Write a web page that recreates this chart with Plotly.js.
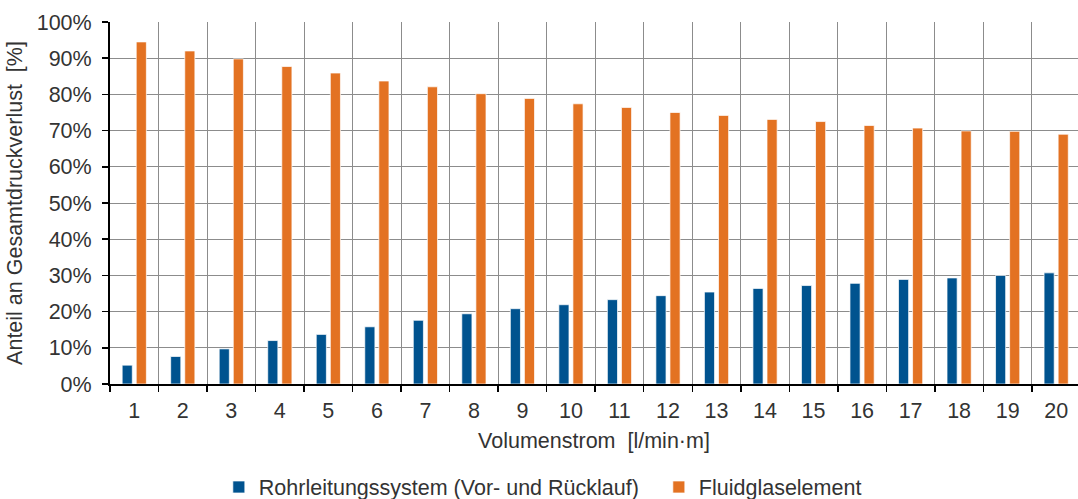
<!DOCTYPE html>
<html>
<head>
<meta charset="utf-8">
<script src="https://cdn.plot.ly/plotly-3.0.1.min.js"></script>
<style>
html,body{margin:0;padding:0;background:#fff;}
#chart{width:1078px;height:499px;}
</style>
</head>
<body>
<div id="chart"></div>
<script>
const categories = ["1","2","3","4","5","6","7","8","9","10","11","12","13","14","15","16","17","18","19","20"];
const rohrleitung = [0.052,0.076,0.097,0.120,0.137,0.158,0.176,0.194,0.208,0.219,0.233,0.244,0.254,0.264,0.272,0.278,0.289,0.293,0.300,0.307];
const fluidglas   = [0.945,0.920,0.898,0.877,0.859,0.837,0.821,0.802,0.789,0.774,0.764,0.750,0.742,0.731,0.725,0.714,0.707,0.699,0.698,0.690];
const seriesNames = ["Rohrleitungssystem (Vor- und Rücklauf)", "Fluidglaselement"];

const font = {family: "Liberation Sans, Arial, sans-serif", size: 21.5, color: "#333333"};

const traces = [
  {type: "bar", name: seriesNames[0], x: categories, y: rohrleitung,
   marker: {color: "#00538F", line: {color: "rgba(255,255,255,0.7)", width: 1}}},
  {type: "bar", name: seriesNames[1], x: categories, y: fluidglas,
   marker: {color: "#E37222", line: {color: "rgba(255,255,255,0.7)", width: 1}}}
];

const layout = {
  width: 1078, height: 499,
  margin: {l: 110, r: 0, t: 22, b: 115, pad: 0, autoexpand: false},
  paper_bgcolor: "#fff", plot_bgcolor: "#fff",
  font: font,
  barmode: "group", bargap: 0.42, bargroupgap: 0.28,
  showlegend: true,
  legend: {orientation: "h", xref: "container", yref: "container",
           x: 0.203, xanchor: "left", y: 0.024, yanchor: "middle",
           font: font, entrywidth: 395, entrywidthmode: "pixels", itemwidth: 30},
  xaxis: {
    type: "category", range: [-0.5, 19.45], automargin: false,
    tickson: "boundaries", ticks: "outside", ticklen: 6, tickwidth: 1.5, tickcolor: "#000",
    showgrid: true, gridcolor: "#8c8c8c", gridwidth: 1,
    showline: true, linecolor: "#000", linewidth: 2,
    tickfont: font, ticklabelstandoff: 6,
    title: {text: "Volumenstrom  [l/min·m]", font: font, standoff: 11},
    fixedrange: true
  },
  yaxis: {
    range: [0, 1], dtick: 0.1, tickformat: ".0%", automargin: false,
    ticks: "outside", ticklen: 6, tickwidth: 1.5, tickcolor: "#000",
    showgrid: true, gridcolor: "#8c8c8c", gridwidth: 1,
    showline: true, linecolor: "#000", linewidth: 2, zeroline: false,
    tickfont: font, ticklabelstandoff: 6,
    title: {text: "Anteil an Gesamtdruckverlust  [%]", font: font, standoff: 8},
    fixedrange: true
  }
};

Plotly.newPlot("chart", traces, layout, {displayModeBar: false, staticPlot: true});
</script>
</body>
</html>
